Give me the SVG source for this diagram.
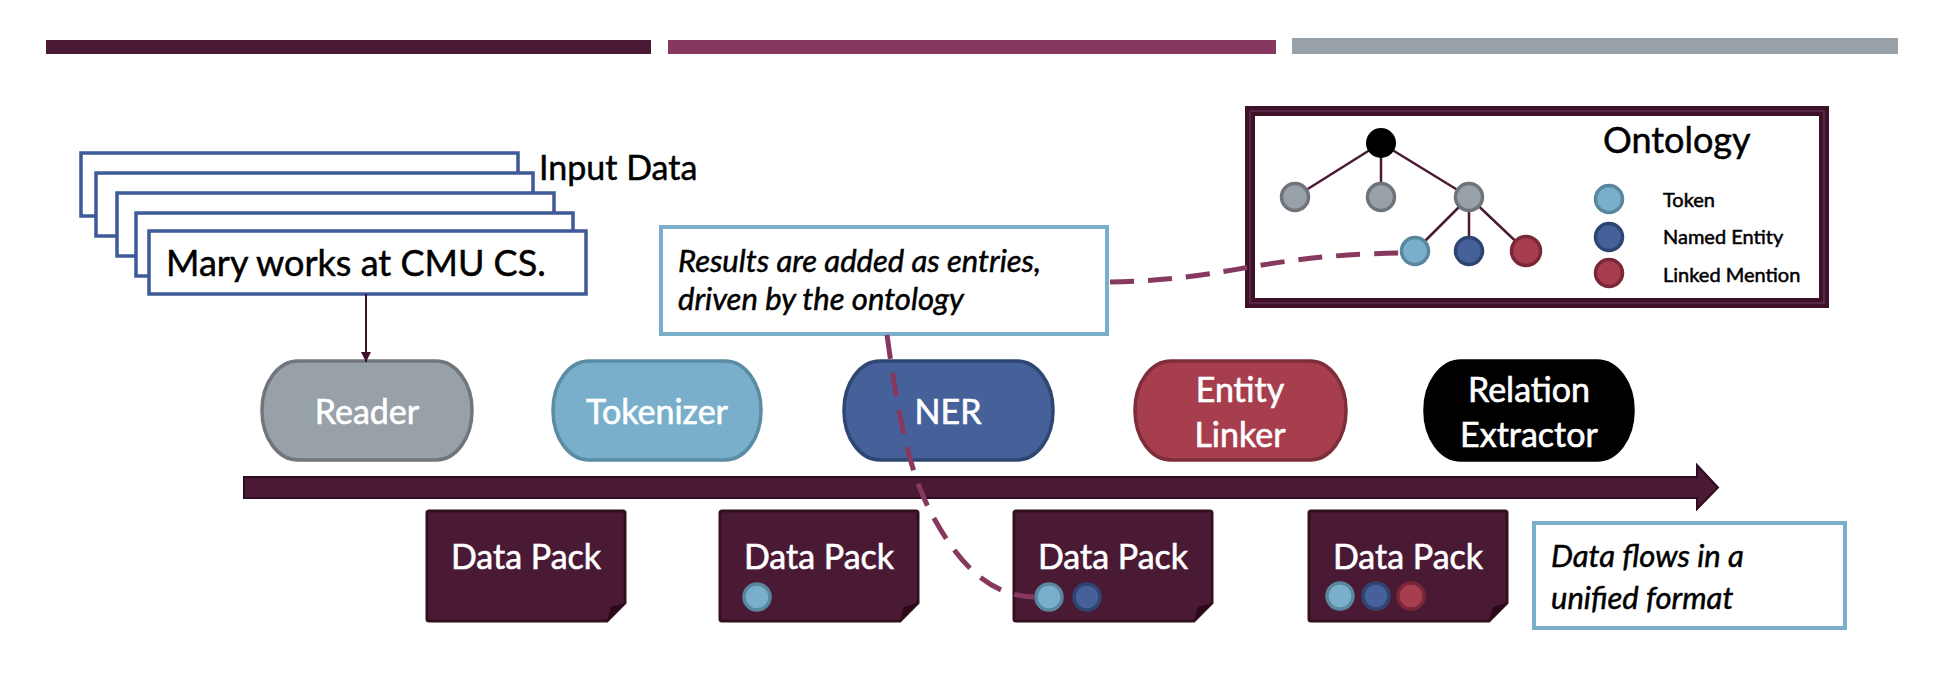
<svg xmlns="http://www.w3.org/2000/svg" width="1952" height="688" viewBox="0 0 1952 688">
<defs>
<style>
.sans{font-family:Lato,"Open Sans","Liberation Sans",sans-serif;}
.blk{fill:#000;stroke:#000;stroke-width:0.5;}
.lbl{font-family:Lato,"Open Sans","Liberation Sans",sans-serif;font-size:34px;fill:#ffffff;stroke:#ffffff;stroke-width:0.6;text-anchor:middle;}
.doc{fill:#ffffff;stroke:#3F5A98;stroke-width:3.5;}
.pack{fill:#4A1A35;stroke:#33101F;stroke-width:3;}
.fold{fill:#2A0816;}
.note{fill:#ffffff;stroke:#79AFCB;stroke-width:4;}
.it{font-family:Lato,"Open Sans","Liberation Sans",sans-serif;font-style:italic;font-size:31px;fill:#000;stroke:#000;stroke-width:0.5;}
.tok{fill:#79AFCB;stroke:#58879E;stroke-width:3.5;}
.ne{fill:#46619A;stroke:#2E4571;stroke-width:3.5;}
.lm{fill:#A63E4E;stroke:#7A2837;stroke-width:3.5;}
.gr{fill:#98A0A8;stroke:#6E747A;stroke-width:3.5;}
.edge{stroke:#4A1A35;stroke-width:2.5;fill:none;}
.dash{stroke:#86385F;stroke-width:5;fill:none;stroke-dasharray:24 14;}
</style>
<marker id="ah" viewBox="0 0 10 10" refX="10" refY="5" markerWidth="10" markerHeight="10" markerUnits="userSpaceOnUse" orient="auto">
<path d="M0,0 L10,5 L0,10 z" fill="#3E1129"/>
</marker>
</defs>
<rect x="0" y="0" width="1952" height="688" fill="#ffffff"/>

<g id="header-bars">
<rect x="46" y="40" width="605" height="14" fill="#4A1A35"/>
<rect x="668" y="40" width="608" height="14" fill="#86385F"/>
<rect x="1292" y="38" width="606" height="16" fill="#98A0A8"/>
</g>

<g id="input-data">
<rect class="doc" x="81" y="153" width="437" height="63"/>
<rect class="doc" x="96" y="173" width="437" height="63"/>
<rect class="doc" x="117" y="193" width="437" height="63"/>
<rect class="doc" x="136" y="213" width="437" height="63"/>
<rect class="doc" x="149" y="231" width="437" height="63"/>
<text class="sans blk" x="539" y="180" font-size="34">Input Data</text>
<text class="sans blk" x="166" y="276" font-size="36">Mary works at CMU CS.</text>
</g>

<g id="ontology">
<rect x="1250" y="111" width="574" height="192" fill="#ffffff" stroke="#3E1129" stroke-width="10"/>
<rect x="1250" y="111" width="574" height="192" fill="none" stroke="#5B2443" stroke-width="2"/>
<line class="edge" x1="1381" y1="143" x2="1295" y2="197"/>
<line class="edge" x1="1381" y1="143" x2="1381" y2="197"/>
<line class="edge" x1="1381" y1="143" x2="1469" y2="197"/>
<line class="edge" x1="1469" y1="197" x2="1415" y2="251"/>
<line class="edge" x1="1469" y1="197" x2="1469" y2="251"/>
<line class="edge" x1="1469" y1="197" x2="1526" y2="251"/>
<circle cx="1381" cy="143" r="15" fill="#000"/>
<circle class="gr" cx="1295" cy="197" r="13.5"/>
<circle class="gr" cx="1381" cy="197" r="13.5"/>
<circle class="gr" cx="1469" cy="197" r="13.5"/>
<circle class="tok" cx="1415" cy="251" r="13.5"/>
<circle class="ne" cx="1469" cy="251" r="13.5"/>
<circle class="lm" cx="1526" cy="251" r="14.5"/>
<text class="sans blk" x="1603" y="153" font-size="36">Ontology</text>
<circle class="tok" cx="1609" cy="199" r="13.5"/>
<circle class="ne" cx="1609" cy="237" r="13.5"/>
<circle class="lm" cx="1609" cy="273" r="13.5"/>
<text class="sans blk" x="1663" y="207" font-size="20" stroke-width="0.3">Token</text>
<text class="sans blk" x="1663" y="244" font-size="20" stroke-width="0.3">Named Entity</text>
<text class="sans blk" x="1663" y="282" font-size="20" stroke-width="0.3">Linked Mention</text>
</g>

<g id="note-results">
<rect class="note" x="661" y="227" width="446" height="107"/>
<text class="it" x="678" y="272">Results are added as entries,</text>
<text class="it" x="678" y="310">driven by the ontology</text>
</g>

<g id="reader">
<rect x="262" y="361" width="210" height="99" rx="36" ry="49" fill="#98A0A8" stroke="#70767C" stroke-width="3.5"/>
<text class="lbl" x="367" y="424">Reader</text>
</g>
<g id="tokenizer">
<rect x="553" y="361" width="208" height="99" rx="36" ry="49" fill="#79AFCB" stroke="#5A8CA4" stroke-width="3.5"/>
<text class="lbl" x="657" y="424">Tokenizer</text>
</g>
<g id="ner">
<rect x="844" y="361" width="209" height="99" rx="36" ry="49" fill="#46619A" stroke="#2F4672" stroke-width="3.5"/>
<text class="lbl" x="948" y="424">NER</text>
</g>
<g id="entity-linker">
<rect x="1135" y="361" width="211" height="99" rx="36" ry="49" fill="#A63E4E" stroke="#7E2D3A" stroke-width="3.5"/>
<text class="lbl" x="1240" y="402">Entity</text>
<text class="lbl" x="1240" y="447">Linker</text>
</g>
<g id="relation-extractor">
<rect x="1425" y="361" width="208" height="99" rx="36" ry="49" fill="#000000" stroke="#000" stroke-width="3.5"/>
<text class="lbl" x="1529" y="402">Relation</text>
<text class="lbl" x="1529" y="447">Extractor</text>
</g>

<g id="datapack-1">
<path class="pack" d="M427,513 Q427,511 429,511 L623,511 Q625,511 625,513 L625,603 L607,621 L429,621 Q427,621 427,619 Z"/>
<path class="fold" d="M607,621 L625,603 L611,607 Z"/>
<text class="lbl" x="526" y="569">Data Pack</text>
</g>
<g id="datapack-2">
<path class="pack" d="M720,513 Q720,511 722,511 L916,511 Q918,511 918,513 L918,603 L900,621 L722,621 Q720,621 720,619 Z"/>
<path class="fold" d="M900,621 L918,603 L904,607 Z"/>
<text class="lbl" x="819" y="569">Data Pack</text>
<circle class="tok" cx="757" cy="597" r="13"/>
</g>
<g id="datapack-3">
<path class="pack" d="M1014,513 Q1014,511 1016,511 L1210,511 Q1212,511 1212,513 L1212,603 L1194,621 L1016,621 Q1014,621 1014,619 Z"/>
<path class="fold" d="M1194,621 L1212,603 L1198,607 Z"/>
<text class="lbl" x="1113" y="569">Data Pack</text>
<circle class="tok" cx="1049" cy="597" r="13"/>
<circle class="ne" cx="1087" cy="597" r="13"/>
</g>
<g id="datapack-4">
<path class="pack" d="M1309,513 Q1309,511 1311,511 L1505,511 Q1507,511 1507,513 L1507,603 L1489,621 L1311,621 Q1309,621 1309,619 Z"/>
<path class="fold" d="M1489,621 L1507,603 L1493,607 Z"/>
<text class="lbl" x="1408" y="569">Data Pack</text>
<circle class="tok" cx="1340" cy="596" r="13"/>
<circle class="ne" cx="1376" cy="596" r="13"/>
<circle class="lm" cx="1411" cy="596" r="13"/>
</g>

<g id="note-flow">
<rect class="note" x="1534" y="523" width="311" height="105"/>
<text class="it" x="1551" y="567" font-size="32">Data flows in a</text>
<text class="it" x="1551" y="609" font-size="32">unified format</text>
</g>

<g id="connectors">
<line x1="366" y1="294" x2="366" y2="362" stroke="#3E1129" stroke-width="2" marker-end="url(#ah)"/>
<path d="M244,477 L1697,477 L1697,465 L1718,487.5 L1697,509 L1697,498 L244,498 Z" fill="#4A1A35" stroke="#2E0C1F" stroke-width="2"/>
<path class="dash" d="M887,335 C900,430 912,480 935,520 C960,565 990,596 1034,597"/>
<path class="dash" d="M1110,282 C1230,280 1260,255 1400,253"/>
</g>
</svg>
